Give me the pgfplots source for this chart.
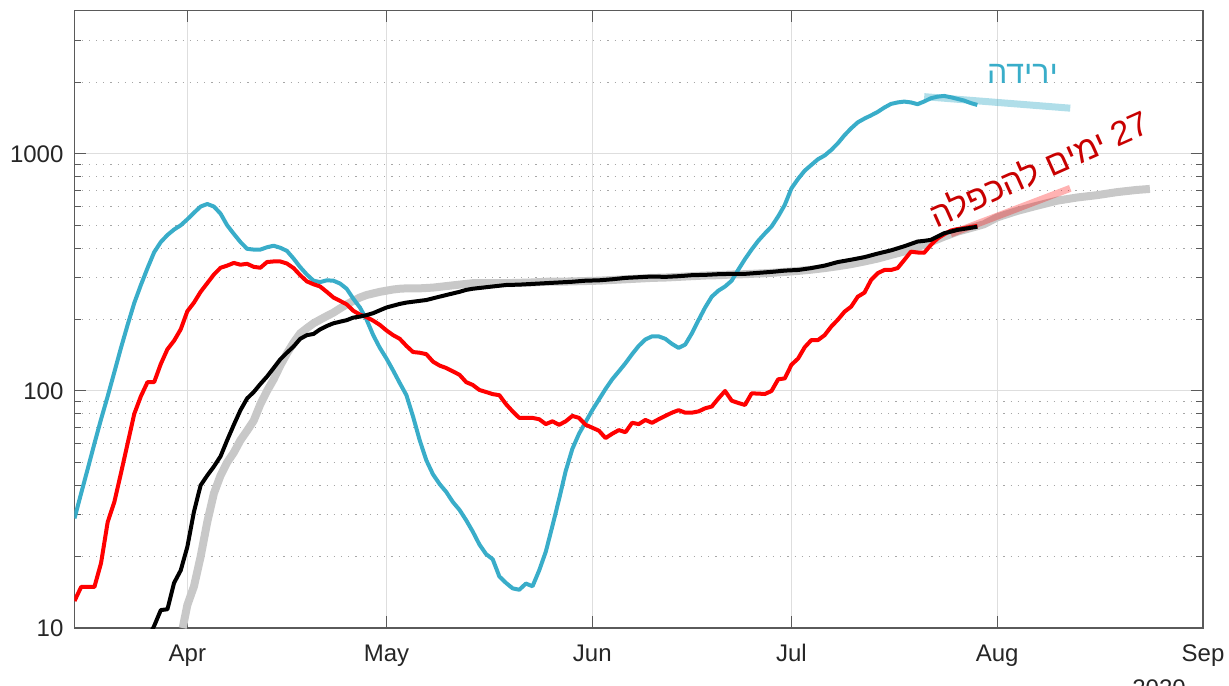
\documentclass[border=0pt]{standalone}
\usepackage{fontspec}
\setmainfont{Liberation Sans}
\newfontfamily\hebfont[Script=Hebrew]{Liberation Sans}
\usepackage{pgfplots}
\pgfplotsset{compat=1.18}
\TeXXeTstate=1

\definecolor{mcyan}{RGB}{57,173,201}
\definecolor{mred}{RGB}{255,0,0}
\definecolor{mgray}{RGB}{200,200,200}
\definecolor{tred}{RGB}{200,0,0}
\definecolor{axcol}{RGB}{90,90,90}
\definecolor{labcol}{RGB}{38,38,38}

\begin{document}
\begin{tikzpicture}
\useasboundingbox (-37.25pt,-28.5pt) rectangle (577.25pt,314pt);
\begin{axis}[
    at={(0,0)}, anchor=south west,
    scale only axis,
    width=564.25pt, height=308.75pt,
    ymode=log,
    xmin=75, xmax=245,
    ymin=10, ymax=4030,
    xtick={92,122,153,183,214,245},
    xticklabels={Apr,May,Jun,Jul,Aug,Sep},
    ytick={10,100,1000},
    yticklabels={10,100,1000},
    minor ytick={20,30,40,50,60,70,80,90,200,300,400,500,600,700,800,900,2000,3000},
    /pgf/number format/assume math mode=true,
    ticklabel style={font=\fontsize{12}{14}\selectfont, text=labcol},
    xticklabel style={yshift=-4pt, text height=9pt, text depth=2.5pt},
    yticklabel style={xshift=-2pt},
    axis line style={axcol, line width=0.6pt},
    every tick/.style={axcol, line width=0.5pt},
    major tick length=6pt,
    minor tick length=3.5pt,
    tick align=inside,
    xmajorgrids, ymajorgrids, yminorgrids,
    major grid style={black!13, line width=0.5pt},
    minor grid style={black!35, line width=0.5pt, dash pattern=on 0.6pt off 3pt},
    clip=true,
]
% gray thick reference curve
\addplot[mgray, line width=4pt, line join=round] table {
91.3 10
92 12.5
93 15
94 20
95 28
96 37
97 44
98 50
99 55
100 62
101 68
102 75
103 88
104 100
105 112
106 128
107 144
108 160
109 175
110 184
111 193
112 200
113 207
114 214
115 223
116 232
117 240
118 248
119 254
120 258
121 262
122 265
123 268
124 270
125 271
127 271
128 272
129 273
130 275
131 277
132 279
133 281
134 283
135 285
140 285
142 286
144 287
146 289
148 289
150 290
152 291
154 292
156 294
158 296
160 298
162 300
164 301
166 303
168 305
170 307
172 308
174 310
176 311
178 313
180 315
182 318
184 321
186 325
188 330
190 336
192 343
194 352
196 362
198 375
200 388
202 405
204 425
206 448
208 470
210 487
212 505
214 540
217 575
220 605
223 635
226 655
229 670
232 690
235 705
237 712
};
% trend lines
\addplot[mcyan, opacity=0.4, line width=3.5pt] table {
203 1745
225 1560
};
\addplot[mred, opacity=0.3, line width=3.5pt] table {
207 460
225 716
};
% cyan series
\addplot[mcyan, line width=2pt, line join=round] table {
75 29
76 37
77 47
78 60
79 76
80 95
81 120
82 152
83 190
84 235
85 280
86 330
87 385
88 425
89 455
90 480
91 500
92 530
93 565
94 600
95 615
96 600
97 560
98 500
99 460
100 425
101 398
102 395
103 395
104 404
105 410
106 402
107 390
108 362
109 333
110 310
111 292
112 288
113 293
114 292
115 284
116 270
117 245
118 225
119 200
120 172
121 152
122 137
123 122
124 108
125 96
126 78
127 62
128 51
129 44.5
130 40.5
131 37.5
132 34
133 31.5
134 28.5
135 25.5
136 22.5
137 20.5
138 19.5
139 16.5
140 15.5
141 14.7
142 14.5
143 15.4
144 15.0
145 17.5
146 21
147 27
148 35
149 46
150 57
151 66
152 74
153 83
154 92
155 102
156 112
157 121
158 131
159 143
160 155
161 165
162 170
163 170
164 166
165 158
166 152
167 157
168 175
169 199
170 225
171 250
172 265
173 276
174 292
175 325
176 360
177 395
178 430
179 462
180 494
181 545
182 610
183 716
184 785
185 850
186 899
187 950
188 985
189 1040
190 1110
191 1200
192 1283
193 1360
194 1410
195 1455
196 1505
197 1570
198 1626
199 1650
200 1663
201 1650
202 1622
203 1665
204 1718
205 1745
206 1757
207 1735
208 1708
209 1680
210 1640
211 1610
};
% red series
\addplot[mred, line width=2pt, line join=round] table {
75 13
76 14.9
78 14.9
79 18.8
80 28
81 34
82 45
83 60
84 80
85 95
86 109
87 109
88 130
89 150
90 163
91 182
92 217
93 236
94 262
95 285
96 310
97 331
98 338
99 347
100 341
101 344
102 334
103 331
104 350
105 352
106 352
107 345
108 330
109 308
110 290
111 282
112 276
113 262
114 248
115 240
116 232
117 218
118 210
119 205
120 198
121 190
122 180
123 172
124 166
125 155
126 146
127 145
128 143
129 133
130 128
131 125
132 121
133 117
134 109
135 106
136 101
137 99
138 97
139 96
140 88
141 82
142 77
144 77
145 76
146 72.5
147 74.5
148 72
149 74.5
150 78.5
151 77
152 72
153 70
154 68
155 63.3
156 66
157 68.4
158 67
159 73.4
160 72.5
161 75.5
162 73.4
163 76
164 78.5
165 81
166 83
167 81
168 81
169 82
170 84.5
171 86
172 93
173 100
174 91
175 89
176 87.3
177 97.7
178 97.5
179 97.1
180 100
181 112
182 113
183 129
184 137
185 153
186 164
187 164
188 172
189 187
190 200
191 216
192 227
193 250
194 260
195 294
196 314
197 324
198 324
199 330
200 357
201 387
202 384
203 383
204 413
205 440
206 458
207 475
208 482
209 486
210 492
211 497
};
% black series
\addplot[black, line width=2pt, line join=round] table {
86 9
87 10.2
88 11.9
89 12
90 15.5
91 17.5
92 22
93 31
94 40
95 44
96 48
97 53
98 62
99 72
100 83
101 93
102 99
103 107
104 115
105 125
106 136
107 145
108 154
109 166
110 172
111 174
112 182
113 188
114 193
115 196
116 199
117 204
118 206
119 209
120 213
121 219
122 225
123 229
124 233
125 236
126 238
127 240
128 242
129 246
130 250
131 254
132 258
133 262
134 267
135 270
136 272
137 274
138 276
139 278
140 280
142 281
144 283
146 285
148 287
150 289
152 292
154 293
156 296
158 300
160 302
162 304
164 303
166 305
168 308
170 309
172 311
174 312
176 312
178 315
180 318
182 322
184 324
186 330
188 338
190 350
192 358
194 367
196 380
198 392
200 408
202 427
203 430
204 434
205 448
206 463
207 470
208 478
209 483
210 488
211 493
};
\node[text=mcyan, font=\hebfont\fontsize{16}{19}\selectfont] at (axis cs:217.8,2176) {\beginR ירידה\endR};
\node[text=tred, rotate=24, font=\hebfont\fontsize{17}{20}\selectfont] at (axis cs:220.3,873) {\beginR\beginL 27\endL{} ימים להכפלה\endR};
\end{axis}
\node[anchor=north, text=labcol, font=\fontsize{12}{14}\selectfont] at (542.25pt,-22.5pt) {2020};
\end{tikzpicture}
\end{document}
